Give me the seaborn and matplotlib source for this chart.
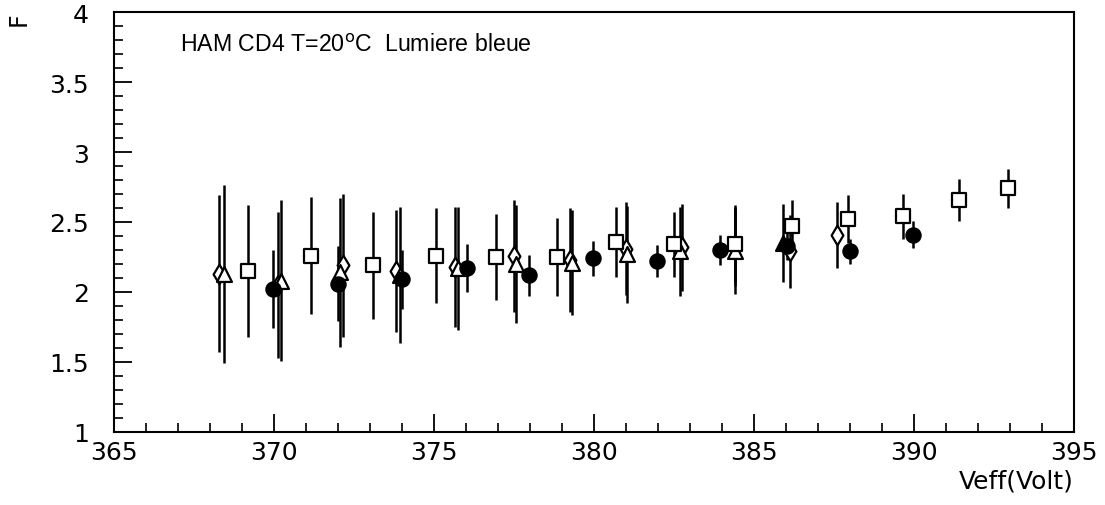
import numpy as np
import pandas as pd
import matplotlib
matplotlib.use("Agg")
import matplotlib.pyplot as plt
import seaborn as sns
from matplotlib.ticker import MultipleLocator

# ---- data ----
sq_v = [369.2, 371.15, 373.1, 375.05, 376.95, 378.85, 380.7, 382.5, 384.4, 386.2, 387.95, 389.65, 391.4, 392.95]
sq_f = [2.15, 2.26, 2.19, 2.26, 2.25, 2.25, 2.36, 2.34, 2.34, 2.47, 2.52, 2.54, 2.66, 2.74]
sq_e = [0.47, 0.42, 0.38, 0.34, 0.31, 0.28, 0.25, 0.23, 0.27, 0.19, 0.17, 0.16, 0.15, 0.14]

ci_v = [369.97, 372.0, 374.0, 376.03, 377.97, 379.97, 381.97, 383.94, 386.03, 388.0, 389.97]
ci_f = [2.02, 2.06, 2.09, 2.17, 2.12, 2.24, 2.22, 2.30, 2.33, 2.29, 2.41]
ci_e = [0.28, 0.27, 0.21, 0.17, 0.145, 0.125, 0.115, 0.11, 0.10, 0.09, 0.095]

tr_v = [368.45, 370.22, 372.06, 373.95, 375.75, 377.55, 379.3, 381.03, 382.7, 384.42]
tr_f = [2.13, 2.08, 2.14, 2.12, 2.17, 2.20, 2.21, 2.27, 2.29, 2.29]
tr_e = [0.635, 0.575, 0.53, 0.485, 0.44, 0.42, 0.375, 0.345, 0.32, 0.305]

tf_v = [385.9]
tf_f = [2.35]
tf_e = [0.28]

di_v = [368.28, 370.12, 372.16, 373.81, 375.65, 377.5, 379.25, 381.0, 382.75, 384.4, 386.13, 387.6]
di_f = [2.13, 2.05, 2.19, 2.15, 2.18, 2.26, 2.23, 2.31, 2.32, 2.33, 2.29, 2.41]
di_e = [0.56, 0.52, 0.51, 0.435, 0.43, 0.40, 0.37, 0.33, 0.31, 0.29, 0.26, 0.235]

title_text = "HAM CD4 T=20$^{\\mathrm{o}}$C  Lumiere bleue"
x_label = "Veff(Volt)"
y_label = "F"

sns.set_style("ticks")
plt.rcParams['font.family'] = ['DejaVu Sans']

fig = plt.figure(figsize=(11.05, 5.06), dpi=100)
W, H = 1105, 506
ax = fig.add_axes([114 / W, (H - 433) / H, (1074 - 114) / W, (433 - 13) / H])

series = [
    (di_v, di_f, di_e, 'd', 'white', 100),
    (tr_v, tr_f, tr_e, '^', 'white', 115),
    (sq_v, sq_f, sq_e, 's', 'white', 100),
    (ci_v, ci_f, ci_e, 'o', 'black', 105),
    (tf_v, tf_f, tf_e, '^', 'black', 115),
]

for v, f, e, m, fc, s in series:
    ax.errorbar(v, f, yerr=e, fmt='none', ecolor='black', elinewidth=1.8, capsize=0, zorder=2)

for v, f, e, m, fc, s in series:
    df = pd.DataFrame({"V": v, "F": f})
    sns.scatterplot(data=df, x="V", y="F", marker=m, s=s, color=fc,
                    edgecolor='black', linewidth=1.6, ax=ax, zorder=3, legend=False)

ax.set_xlim(365, 395)
ax.set_ylim(1, 4)
ax.xaxis.set_minor_locator(MultipleLocator(1))
ax.yaxis.set_minor_locator(MultipleLocator(0.1))
ax.set_xticks([365, 370, 375, 380, 385, 390, 395])
ax.set_xticklabels(["365", "370", "375", "380", "385", "390", "395"])
ax.set_yticks([1, 1.5, 2, 2.5, 3, 3.5, 4])
ax.set_yticklabels(["1", "1.5", "2", "2.5", "3", "3.5", "4"])

ax.tick_params(axis='both', which='major', direction='in', length=13, width=1.3,
               labelsize=18, colors='black')
ax.tick_params(axis='both', which='minor', direction='in', length=6.5, width=1.2, colors='black')
ax.tick_params(axis='x', which='major', pad=6)
ax.tick_params(axis='y', which='major', pad=18)
ax.tick_params(top=False, right=False, which='both')

for sp in ax.spines.values():
    sp.set_visible(True)
    sp.set_linewidth(1.5)
    sp.set_color('black')

ax.set_xlabel(x_label, loc='right', fontsize=18, labelpad=3, color='black')
ax.set_ylabel(y_label, fontsize=17, rotation=90, color='black')
ax.yaxis.set_label_coords((19 - 114) / 960, (433 - 19) / 420)
ax.yaxis.label.set_horizontalalignment('center')
ax.yaxis.label.set_verticalalignment('center')

ax.text((180 - 114) / 960, (433 - 45) / 420, title_text, transform=ax.transAxes,
        fontsize=16.7, va='center', ha='left', color='black',
        family=['Liberation Sans', 'DejaVu Sans'])

ax.grid(False)
fig.savefig("out.png", dpi=100, facecolor='white')
